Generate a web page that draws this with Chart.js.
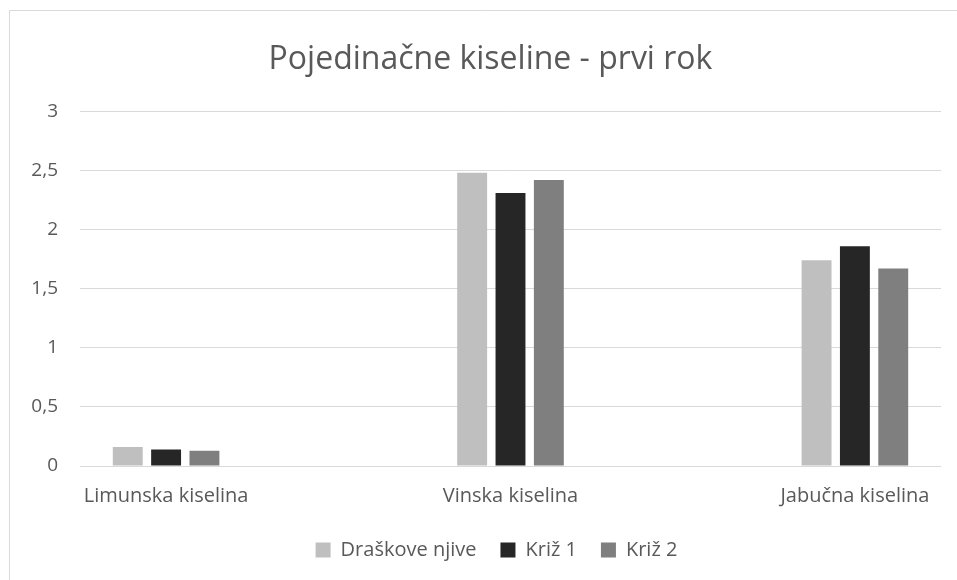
<!DOCTYPE html>
<html>
<head>
<meta charset="utf-8">
<script src="https://cdn.jsdelivr.net/npm/chart.js@4/dist/chart.umd.min.js"></script>
<style>
  html, body { margin: 0; padding: 0; background: #fff; }
  #wrap { width: 957px; height: 580px; }
</style>
</head>
<body>
<div id="wrap"><canvas id="bar-chart"></canvas></div>
<script>
  var categories = ['Limunska kiselina', 'Vinska kiselina', 'Jabučna kiselina'];
  var draskoveNjive = [0.16, 2.48, 1.74];
  var kriz1 = [0.14, 2.31, 1.86];
  var kriz2 = [0.13, 2.42, 1.67];
  var yTicks = [0, 0.5, 1, 1.5, 2, 2.5, 3];

  var fontFamily = '"Open Sans", Lato, sans-serif';
  var textColor = '#595959';

  function points(values) {
    return values.map(function(v, i) { return { x: i, y: v }; });
  }

  // white background + the thin frame seen at the top and left edge
  var frame = {
    id: 'frame',
    beforeDraw: function(chart) {
      var ctx = chart.ctx;
      ctx.save();
      ctx.fillStyle = '#fff';
      ctx.fillRect(0, 0, chart.width, chart.height);
      ctx.strokeStyle = '#d9d9d9';
      ctx.lineWidth = 1;
      ctx.beginPath();
      ctx.moveTo(9.5, chart.height);
      ctx.lineTo(9.5, 10.5);
      ctx.lineTo(chart.width, 10.5);
      ctx.stroke();
      ctx.restore();
    }
  };

  // title and legend sit a bit right of the plot centre in the original
  var nudge = {
    id: 'nudge',
    afterLayout: function(chart) {
      var t = chart.titleBlock, l = chart.legend;
      if (t) { t.left += 20; t.right += 20; }
      if (l) { l.left += 26; l.right += 26; l.top -= 10; l.bottom -= 10; }
    }
  };

  var ctx = document.getElementById('bar-chart').getContext('2d');
  var myBarChart = new Chart(ctx, {
    type: 'bar',
    data: {
      datasets: [
        { label: 'Draškove njive', data: points(draskoveNjive), backgroundColor: '#bfbfbf' },
        { label: 'Križ 1', data: points(kriz1), backgroundColor: '#262626' },
        { label: 'Križ 2', data: points(kriz2), backgroundColor: '#7f7f7f' }
      ]
    },
    options: {
      responsive: true,
      maintainAspectRatio: false,
      animation: false,
      categoryPercentage: 0.334,
      barPercentage: 0.78,
      layout: { padding: { left: 0, right: 16, top: 0, bottom: 0 } },
      scales: {
        x: {
          type: 'linear',
          min: -0.25,
          max: 2.25,
          offset: false,
          afterBuildTicks: function(scale) {
            scale.ticks = categories.map(function(c, i) { return { value: i }; });
          },
          grid: { display: false, drawTicks: false, offset: false },
          border: { display: false },
          ticks: {
            padding: 18,
            color: textColor,
            font: { family: fontFamily, size: 20 },
            maxRotation: 0,
            autoSkip: false,
            callback: function(value) { return categories[value]; }
          }
        },
        y: {
          min: 0,
          max: 3,
          afterBuildTicks: function(scale) {
            scale.ticks = yTicks.map(function(v) { return { value: v }; });
          },
          afterFit: function(scale) { scale.width = 80; },
          grid: { color: '#d9d9d9', drawTicks: false },
          border: { display: false },
          ticks: {
            padding: 22,
            color: textColor,
            font: { family: fontFamily, size: 19 },
            callback: function(value) { return String(value).replace('.', ','); }
          }
        }
      },
      plugins: {
        title: {
          display: true,
          text: 'Pojedinačne kiseline - prvi rok',
          color: textColor,
          font: { family: fontFamily, size: 32, weight: 'normal' },
          padding: { top: 41, bottom: 32 }
        },
        legend: {
          position: 'bottom',
          labels: {
            color: textColor,
            font: { family: fontFamily, size: 20 },
            boxWidth: 15,
            boxHeight: 15,
            padding: 24
          }
        },
        tooltip: { enabled: false }
      }
    },
    plugins: [frame, nudge]
  });
</script>
</body>
</html>
